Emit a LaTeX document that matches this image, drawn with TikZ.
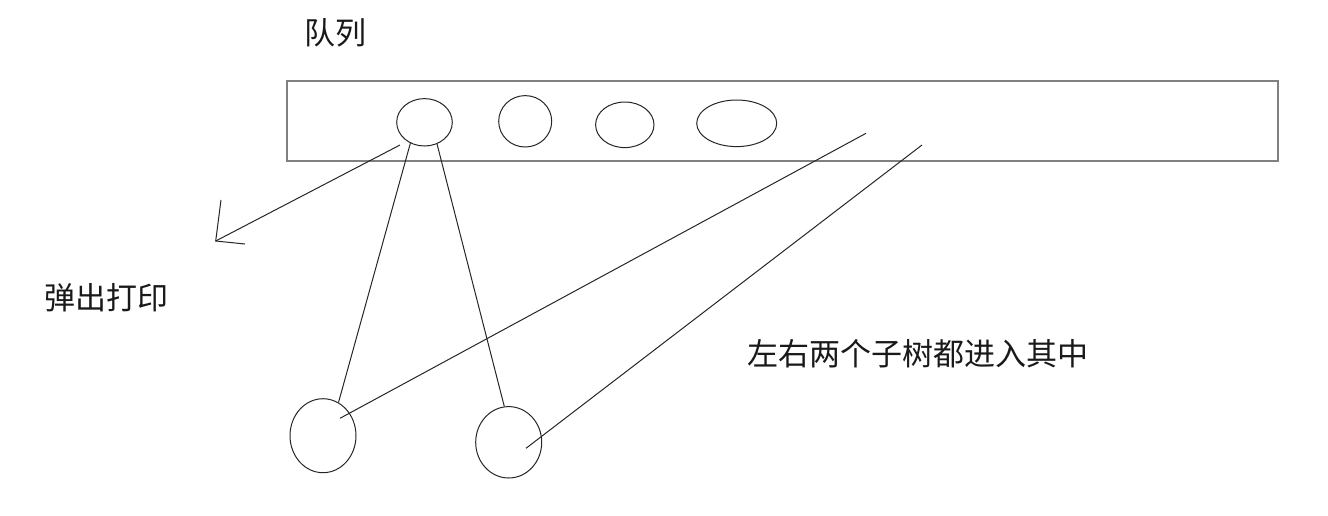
\documentclass[tikz,border=0pt]{standalone}
\usepackage{fontspec}
\newfontfamily\cjk{Noto Sans CJK SC}
\usetikzlibrary{shapes.geometric}
\tikzset{
    elem/.style={draw=black!85, line width=1pt, ellipse, inner sep=0pt},
    link/.style={draw=black!85, line width=1pt},
    label/.style={font=\cjk\fontsize{31}{31}\selectfont, inner sep=0pt, text=black!90}
}
\begin{document}
\begin{tikzpicture}[x=1pt,y=-1pt]
% canvas in pixel units of the sketch
\useasboundingbox (0,0) rectangle (1328,515);
% the queue
\draw[line width=2pt, draw=black!50] (287,81) rectangle (1278,161);
\node[label] (qname) at (335,33) {队列};
% elements waiting in the queue
\node[elem, minimum width=55.6pt, minimum height=47.4pt] (q1) at (424.5,122.3) {};
\node[elem, minimum width=53pt, minimum height=51.4pt] (q2) at (525.2,121.3) {};
\node[elem, minimum width=58.4pt, minimum height=45.6pt] (q3) at (624.8,124.8) {};
\node[elem, minimum width=80pt, minimum height=46.6pt] (q4) at (736.7,123.3) {};
% the two subtrees
\node[elem, minimum width=66pt, minimum height=74pt] (lt) at (323,435.7) {};
\node[elem, minimum width=66pt, minimum height=71.4pt] (rt) at (508.7,442.3) {};
% free ends
\coordinate (popstart) at (400,145);
\coordinate (poptip) at (215.7,241);
\coordinate (barbup) at (221,200);
\coordinate (barbdown) at (245,244);
\coordinate (ltin) at (340,418.3);
\coordinate (rtin) at (526,448.3);
\coordinate (ltback) at (866,133.3);
\coordinate (rtback) at (922,145);
% pop and print, hand drawn head
\draw[link] (popstart) -- (poptip);
\draw[link] (barbup) -- (poptip) -- (barbdown);
\node[label] (popname) at (106.7,298) {弹出打印};
% children of the popped element
\draw[link] (q1.236) -- (lt.65);
\draw[link] (q1.300) -- (rt.97);
% children pushed back into the queue
\draw[link] (ltin) -- (ltback);
\draw[link] (rtin) -- (rtback);
\node[label] (pushname) at (918.3,353.5) {左右两个子树都进入其中};
\end{tikzpicture}
\end{document}
